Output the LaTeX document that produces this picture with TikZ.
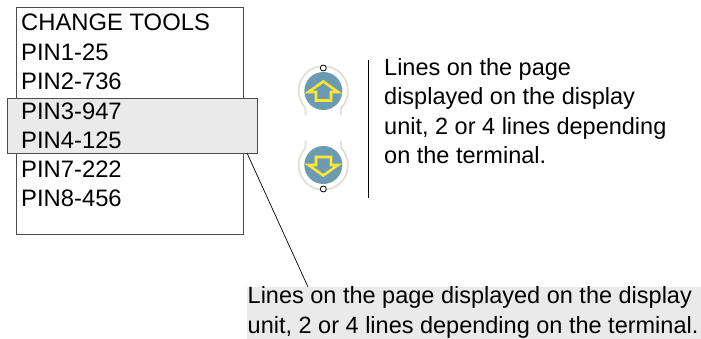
\documentclass[tikz,border=0pt]{standalone}
\usepackage{fontspec}
\setmainfont{Liberation Sans}
\definecolor{panelgrey}{HTML}{EAEAEA}
\definecolor{bluedisc}{HTML}{6A9BB3}
\definecolor{ringgrey}{HTML}{DDDDD2}
\definecolor{arrowyellow}{HTML}{FFE633}
\tikzset{
  x=1pt,y=-1pt,
  txt/.style={anchor=base west,inner sep=0pt,font=\fontsize{23.8}{29}\selectfont},
  txts/.style={anchor=base west,inner sep=0pt,font=\fontsize{23.5}{29}\selectfont},
  box/.style={draw=black!70,line width=1pt},
  ring/.style={draw=ringgrey,line width=1.6pt},
  disc/.style={circle,fill=bluedisc,minimum size=38pt,inner sep=0pt},
  pip/.style={circle,draw=black,fill=white,line width=.8pt,minimum size=6pt,inner sep=0pt},
  arrowglyph/.style={draw=arrowyellow,line width=2.6pt,line join=miter,fill=none}
}
\begin{document}
\begin{tikzpicture}
\useasboundingbox (0,0) rectangle (701,339);
\node[box,minimum width=227pt,minimum height=227pt,inner sep=0pt,anchor=north west] (list) at (16,7) {};
\node[txt] (l1) at (21,31) {CHANGE TOOLS};
\node[txt] (l2) at (21,61) {PIN1-25};
\node[txt] (l3) at (21,90) {PIN2-736};
\node[box,fill=panelgrey,minimum width=250pt,minimum height=55pt,inner sep=0pt,anchor=north west] (sel) at (7,98) {};
\node[txt] (l4) at (21,120) {PIN3-947};
\node[txt] (l5) at (21,149) {PIN4-125};
\node[txt] (l6) at (21,178) {PIN7-222};
\node[txt] (l7) at (21,207) {PIN8-456};
% highlighted note
\fill[panelgrey] (247,287) rectangle (701,338.5);
\node[txts] (n1) at (247.5,303.5) {Lines on the page displayed on the display};
\node[txts] (n2) at (247.5,333) {unit, 2 or 4 lines depending on the terminal.};
\coordinate (lead) at (308,287);
\coordinate (selpt) at (247,153);
\draw[line width=.7pt] (selpt) -- (lead);
% buttons
\draw[ring] (305.5,115) -- (305.5,108) arc[start angle=136,end angle=404,radius=24.7] -- (341.1,115);
\draw[ring] (305.5,141) -- (305.5,147.9) arc[start angle=224,end angle=-44,radius=24.7] -- (341.1,141);
\node[disc] (up) at (323.3,91) {};
\node[disc] (down) at (323.3,165) {};
\node[pip] (pa) at (323.3,68) {};
\node[pip] (pb) at (323.3,189) {};
\draw[arrowglyph] (323.3,81.5) -- (338,92) -- (331,92) -- (331,100.5) -- (316,100.5) -- (316,92) -- (308.5,92) -- cycle;
\draw[arrowglyph] (323.3,175.5) -- (338,165) -- (331,165) -- (331,157) -- (316,157) -- (316,165) -- (308.5,165) -- cycle;
\coordinate (va) at (368,60);
\coordinate (vb) at (368,198);
\draw[line width=.8pt] (va) -- (vb);
\node[txts] (r1) at (384,76) {Lines on the page};
\node[txts] (r2) at (384,105) {displayed on the display};
\node[txts] (r3) at (384,135) {unit, 2 or 4 lines depending};
\node[txts] (r4) at (384,164) {on the terminal.};
\end{tikzpicture}
\end{document}
